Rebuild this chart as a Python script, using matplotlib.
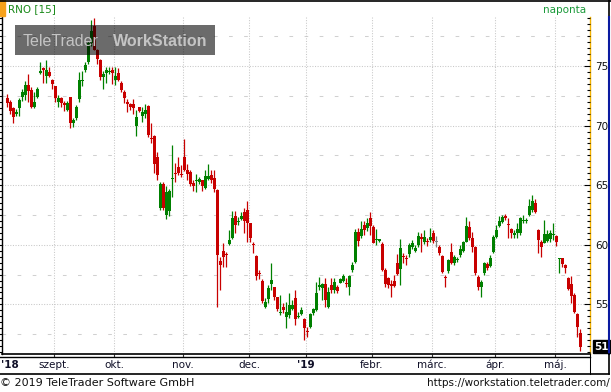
import matplotlib
matplotlib.use('Agg')
import matplotlib.pyplot as plt
from matplotlib.lines import Line2D
from matplotlib.patches import Rectangle
from matplotlib.transforms import blended_transform_factory
import numpy as np

W, H = 611, 392

# daily candles, RNO, Aug 2018 - May 2019
opens = [72.34, 71.98, 71.50, 71.00, 71.50, 72.40, 72.60, 73.40, 73.00, 71.60,
         72.40, 74.45, 74.80, 74.20, 74.50, 73.80, 73.30, 72.00, 72.30, 71.90,
         71.30, 72.40, 70.20, 70.60, 72.20, 73.70, 74.65, 75.35, 76.90, 78.35,
         76.35, 75.50, 74.05, 74.45, 74.50, 74.65, 73.80, 74.40, 73.55, 72.85,
         72.00, 71.85, 71.85, 70.00, 71.60, 70.80, 71.00, 71.65, 68.95, 69.10,
         67.40, 63.10, 65.10, 62.50, 62.80, 65.55, 66.00, 66.50, 65.95, 67.40,
         66.30, 66.10, 65.20, 65.35, 65.30, 65.40, 64.80, 65.50, 65.85, 65.60,
         64.60, 58.67, 59.48, 59.26, 60.07, 60.55, 62.42, 61.94, 62.14, 62.78,
         62.92, 61.80, 60.07, 59.09, 57.66, 56.99, 54.81, 55.46, 56.71, 56.43,
         55.60, 54.25, 54.81, 53.97, 54.11, 54.59, 55.51, 53.92, 54.17, 53.75,
         52.74, 53.08, 54.31, 54.53, 56.49, 56.41, 56.69, 54.81, 56.63, 56.21,
         56.49, 56.83, 56.99, 56.83, 56.43, 57.89, 58.59, 61.10, 60.74, 61.66,
         61.38, 62.28, 61.52, 60.41, 60.35, 60.07, 57.89, 57.19, 56.71, 56.99,
         58.50, 57.97, 59.06, 58.92, 59.23, 59.85, 59.48, 59.99, 60.69, 60.27,
         60.32, 60.41, 60.97, 60.27, 59.85, 59.06, 57.33, 57.83, 59.37, 58.50,
         58.73, 59.15, 59.51, 60.27, 61.52, 60.55, 59.85, 57.27, 56.43, 57.61,
         58.39, 58.22, 59.43, 60.69, 61.58, 61.94, 62.42, 61.70, 61.30, 60.83,
         60.97, 60.97, 61.98, 62.00, 62.50, 62.92, 63.48, 61.25, 60.27, 60.18,
         60.35, 60.46, 60.88, 60.74, 58.79, 58.87, 58.31, 57.19, 56.71, 55.79,
         54.20, 52.63]
highs = [72.62, 72.15, 71.60, 71.40, 72.30, 73.10, 73.70, 74.30, 73.20, 72.85,
         73.20, 75.30, 74.90, 75.50, 74.95, 73.95, 73.30, 72.55, 72.40, 72.10,
         72.10, 72.40, 70.65, 71.70, 74.50, 74.60, 75.35, 77.10, 78.90, 79.00,
         76.40, 75.60, 74.55, 74.95, 74.95, 74.95, 74.95, 74.80, 73.70, 73.00,
         72.25, 71.90, 72.25, 71.30, 71.60, 71.60, 71.85, 71.75, 70.25, 69.25,
         67.80, 65.30, 65.30, 64.90, 64.70, 68.40, 66.90, 67.40, 66.70, 68.90,
         66.80, 66.30, 65.40, 65.95, 65.70, 65.45, 66.30, 66.80, 66.30, 66.30,
         64.70, 59.01, 60.13, 59.43, 61.24, 62.87, 62.87, 62.36, 62.78, 63.06,
         63.68, 61.80, 60.27, 59.15, 57.89, 57.11, 55.51, 56.63, 58.45, 56.49,
         55.65, 55.79, 55.09, 55.23, 55.99, 55.37, 56.21, 54.39, 54.81, 53.83,
         53.13, 54.25, 54.67, 56.91, 57.33, 56.77, 57.19, 56.49, 57.19, 57.19,
         56.63, 57.19, 57.55, 57.19, 57.47, 58.59, 61.30, 61.38, 62.03, 62.03,
         62.22, 62.78, 61.66, 61.30, 60.50, 60.27, 58.03, 57.33, 57.05, 57.47,
         59.23, 60.46, 59.29, 59.15, 60.13, 60.41, 59.99, 61.10, 61.02, 61.24,
         60.55, 61.38, 61.24, 60.74, 59.99, 59.15, 57.47, 58.78, 60.13, 59.15,
         59.01, 59.99, 60.35, 62.36, 62.00, 61.10, 59.90, 57.47, 57.05, 58.59,
         58.59, 59.15, 60.83, 61.66, 62.42, 62.50, 62.59, 62.22, 61.38, 61.25,
         61.80, 62.36, 62.50, 62.22, 63.82, 64.18, 63.82, 61.30, 60.41, 62.08,
         61.24, 61.24, 61.80, 60.83, 58.87, 58.87, 58.39, 57.33, 57.39, 55.93,
         54.25, 52.91]
lows = [71.60, 71.00, 70.25, 70.80, 70.80, 72.10, 72.15, 72.00, 71.50, 71.50,
        72.30, 74.30, 73.60, 73.60, 74.10, 73.10, 72.00, 71.60, 71.60, 71.25,
        71.20, 69.80, 69.90, 70.50, 72.00, 73.30, 74.50, 75.20, 76.70, 76.30,
        75.20, 73.80, 73.10, 73.60, 74.35, 73.45, 73.40, 73.70, 72.85, 71.90,
        71.10, 71.30, 71.00, 69.10, 71.10, 70.30, 70.65, 69.05, 68.50, 66.00,
        65.40, 62.90, 62.90, 62.20, 62.40, 64.00, 65.30, 65.85, 65.65, 66.20,
        65.40, 64.90, 64.50, 64.40, 65.10, 64.50, 64.70, 65.40, 65.20, 64.40,
        54.80, 56.21, 58.17, 58.17, 59.99, 60.46, 60.96, 61.66, 62.10, 60.96,
        60.27, 60.27, 59.29, 57.05, 57.11, 55.09, 54.67, 55.15, 56.21, 55.37,
        54.45, 54.11, 54.25, 53.05, 53.83, 54.53, 53.27, 53.83, 54.11, 52.02,
        52.30, 52.99, 54.11, 54.48, 56.21, 55.37, 54.81, 54.67, 55.93, 55.93,
        55.93, 56.77, 56.91, 56.49, 55.79, 57.75, 58.50, 59.90, 60.55, 60.83,
        61.19, 60.83, 60.13, 59.99, 60.25, 57.83, 56.49, 56.35, 55.60, 56.49,
        57.47, 56.63, 58.45, 58.31, 59.01, 59.62, 59.43, 59.85, 59.43, 60.07,
        59.90, 60.27, 60.13, 59.79, 59.15, 57.66, 56.43, 57.66, 58.39, 58.31,
        58.59, 59.00, 59.40, 60.20, 60.40, 59.43, 57.50, 56.21, 55.65, 57.47,
        57.89, 58.17, 59.34, 60.55, 61.47, 61.80, 62.08, 60.55, 60.55, 60.55,
        60.55, 60.83, 61.80, 61.86, 62.42, 62.78, 62.70, 59.29, 59.01, 60.13,
        60.27, 60.27, 60.41, 59.90, 57.66, 58.17, 57.61, 56.21, 55.15, 54.25,
        52.30, 51.10]
closes = [71.92, 71.25, 70.75, 71.10, 72.15, 72.85, 73.40, 72.90, 71.60, 72.00,
          73.05, 74.55, 74.70, 74.65, 74.15, 73.45, 72.35, 72.30, 71.90, 71.70,
          71.90, 70.20, 70.50, 71.60, 73.80, 73.80, 75.10, 76.90, 77.90, 76.35,
          75.55, 74.10, 74.35, 74.65, 74.60, 74.40, 74.15, 73.80, 73.00, 72.30,
          71.85, 71.60, 71.45, 70.75, 71.20, 71.15, 71.30, 69.20, 68.85, 66.80,
          65.85, 65.10, 63.10, 64.40, 64.50, 65.60, 65.90, 66.05, 65.85, 66.25,
          65.95, 65.10, 64.90, 65.45, 65.50, 64.90, 65.80, 65.80, 65.40, 64.70,
          59.15, 58.31, 59.01, 59.15, 60.41, 62.22, 61.66, 62.03, 62.42, 62.03,
          61.86, 60.55, 59.99, 57.41, 57.55, 55.32, 55.23, 56.35, 57.05, 55.65,
          54.59, 54.37, 54.53, 54.39, 54.95, 54.95, 53.75, 54.03, 54.53, 52.99,
          52.66, 54.20, 54.59, 55.93, 56.63, 56.69, 55.37, 56.07, 56.21, 56.91,
          56.15, 57.11, 57.39, 56.71, 57.39, 58.31, 61.10, 60.35, 61.30, 61.24,
          61.86, 61.58, 60.18, 60.52, 60.46, 57.89, 56.71, 56.63, 56.55, 56.57,
          57.55, 59.71, 58.95, 58.81, 59.99, 60.18, 59.76, 60.74, 60.46, 60.69,
          60.21, 60.69, 60.35, 60.27, 59.34, 57.75, 57.22, 58.73, 58.45, 59.01,
          58.84, 59.62, 60.21, 61.58, 60.55, 59.79, 57.61, 56.49, 56.91, 58.50,
          58.03, 58.92, 60.69, 61.25, 62.03, 62.36, 62.22, 61.66, 60.97, 61.02,
          61.30, 62.22, 62.03, 62.05, 63.26, 63.70, 62.78, 60.41, 59.85, 60.91,
          60.91, 60.97, 60.92, 60.27, 58.87, 58.39, 58.03, 56.27, 55.71, 54.39,
          53.13, 51.46]

month_starts = [16, 36, 59, 81, 100, 122, 142, 163, 183]
month_labels = ['szept.', 'okt.', 'nov.', 'dec.', "'19", 'febr.', 'márc.', 'ápr.', 'máj.']
price_ticks = [55, 60, 65, 70, 75]
half_lines = [52.5, 57.5, 62.5, 67.5, 72.5, 77.5]
last_label = '51'

GREEN = '#008000'
RED = '#c80000'
GREY = '#808080'


def fx(px):
    return px / W


def fy(py):
    return 1 - py / H


plt.rcParams['font.family'] = ['DejaVu Sans']

fig = plt.figure(figsize=(W / 100, H / 100), dpi=100)
fig.patch.set_facecolor('white')
ax = fig.add_axes([fx(2), fy(354), fx(590) - fx(2), fy(17) - fy(354)])

o = np.array(opens)
h = np.array(highs)
l = np.array(lows)
c = np.array(closes)
x = np.arange(len(o))

ymin, ymax = 50.84, 79.11
ax.set_ylim(ymin, ymax)
ax.set_xlim(-1.83, 194.17)

# grid
dot = (0, (1, 1.5))
for v in price_ticks:
    ax.axhline(v, color='#c8c8c8', lw=0.75, ls=dot, zorder=0)
for v in half_lines:
    ax.axhline(v, color='#d0d0d0', lw=0.75, ls=(0, (3.5, 11)), zorder=0)
for m in month_starts:
    ax.axvline(m - 0.5, color='#c8c8c8', lw=0.75, ls=dot, zorder=0)

# candles
cols = [GREEN if cc > oo else (RED if cc < oo else GREY) for oo, cc in zip(o, c)]
ax.vlines(x, l, h, colors=cols, lw=0.9, zorder=2)
body_h = np.where(np.abs(c - o) < 0.09, 0.09, c - o)
body_b = np.where(np.abs(c - o) < 0.09, (o + c) / 2 - 0.045, o)
ax.bar(x, body_h, bottom=body_b, width=0.85, color=cols, linewidth=0, zorder=3)

# spines / ticks
ax.spines['top'].set_visible(False)
ax.spines['left'].set_color('black')
ax.spines['left'].set_linewidth(1.0)
ax.spines['right'].set_color('#f2b200')
ax.spines['right'].set_linewidth(1.0)
ax.spines['bottom'].set_color('black')
ax.spines['bottom'].set_linewidth(1.2)

ax.set_yticks(price_ticks)
ax.set_yticks(np.arange(51, 79.01, 0.5), minor=True)
ax.tick_params(axis='y', which='major', left=True, right=False, labelleft=False,
               direction='out', length=3, width=0.8)
ax.tick_params(axis='y', which='minor', left=True, right=False,
               direction='out', length=2.5, width=0.8)
ax.set_xticks([m - 0.5 for m in month_starts])
ax.set_xticklabels([])
ax.tick_params(axis='x', direction='out', length=2.5, width=0.8, color='#333333')

ax2 = ax.twinx()
ax2.set_ylim(ymin, ymax)
for s in ax2.spines.values():
    s.set_visible(False)
ax2.set_yticks(price_ticks)
ax2.set_yticks(np.arange(51, 79.01, 0.5), minor=True)
ax2.set_yticklabels([str(v) for v in price_ticks], fontsize=7.5, color='#101010')
ax2.tick_params(axis='y', which='major', direction='in', length=4, width=0.8, pad=4)
ax2.tick_params(axis='y', which='minor', direction='in', length=2.5, width=0.8)

# last price box
ax2.text(1.0065, c[-1], last_label, transform=blended_transform_factory(ax.transAxes, ax.transData),
         fontsize=7.5, fontweight='bold', color='white', va='center', ha='left',
         bbox=dict(boxstyle='square,pad=0.12', fc='black', ec='black'))

# month labels
tr = blended_transform_factory(ax.transData, ax.transAxes)
for m, lab in zip(month_starts, month_labels):
    ax.text(m - 0.5, -0.033, lab, transform=tr, ha='center', va='center', fontsize=7.5,
            color='#101028', fontweight='bold' if lab.startswith("'") else 'normal', clip_on=False)
fig.text(fx(1), fy(365), "'18", fontsize=7.5, fontweight='bold', color='#101028', va='center', ha='left')


# frame lines
def hline(y, x0, x1, color='black', lw=0.75):
    fig.add_artist(Line2D([fx(x0), fx(x1)], [fy(y), fy(y)], color=color, lw=lw))


def vline(xp, y0, y1, color='black', lw=0.75):
    fig.add_artist(Line2D([fx(xp), fx(xp)], [fy(y0), fy(y1)], color=color, lw=lw))


hline(0.5, 0, W, lw=1.2)
hline(357, 0, 589.5, lw=1.0)
hline(374, 0, 609, lw=1.2)
vline(589.5, 354, 374)
vline(608.5, 0, 17, lw=1.2)
vline(608.5, 17, 354, color='#0a1aa0', lw=1.5)
vline(608.5, 354, 374, lw=1.2)

# header
fig.add_artist(Rectangle((0, fy(16)), fx(5), fy(0) - fy(16), color='#f7a21b', transform=fig.transFigure))
fig.text(fx(8), fy(9.5), 'RNO [15]', fontsize=7.5, color='#1a8a1a', va='center', ha='left')
fig.text(fx(586), fy(10), 'naponta', fontsize=7.5, color='#1a9a3a', va='center', ha='right')

# watermark
fig.add_artist(Rectangle((fx(15), fy(55)), fx(215) - fx(15), fy(25) - fy(55), fc='black',
                         alpha=0.58, lw=0, transform=fig.transFigure, zorder=5))
fig.text(fx(23), fy(46), 'TeleTrader', fontsize=11.5, color='#c4c4c4',
         family='Liberation Sans', va='baseline', ha='left', zorder=6)
fig.text(fx(207), fy(46), 'WorkStation', fontsize=11.5, fontweight='bold', color='#c4c4c4',
         family='Liberation Sans', va='baseline', ha='right', zorder=6)

# footer
fig.text(fx(0), fy(383), '© 2019 TeleTrader Software GmbH', fontsize=8, color='#101010',
         va='center', ha='left')
fig.text(fx(610), fy(383), 'https://workstation.teletrader.com/', fontsize=7.5, color='#101010',
         va='center', ha='right')

fig.savefig('out.png', dpi=100)
